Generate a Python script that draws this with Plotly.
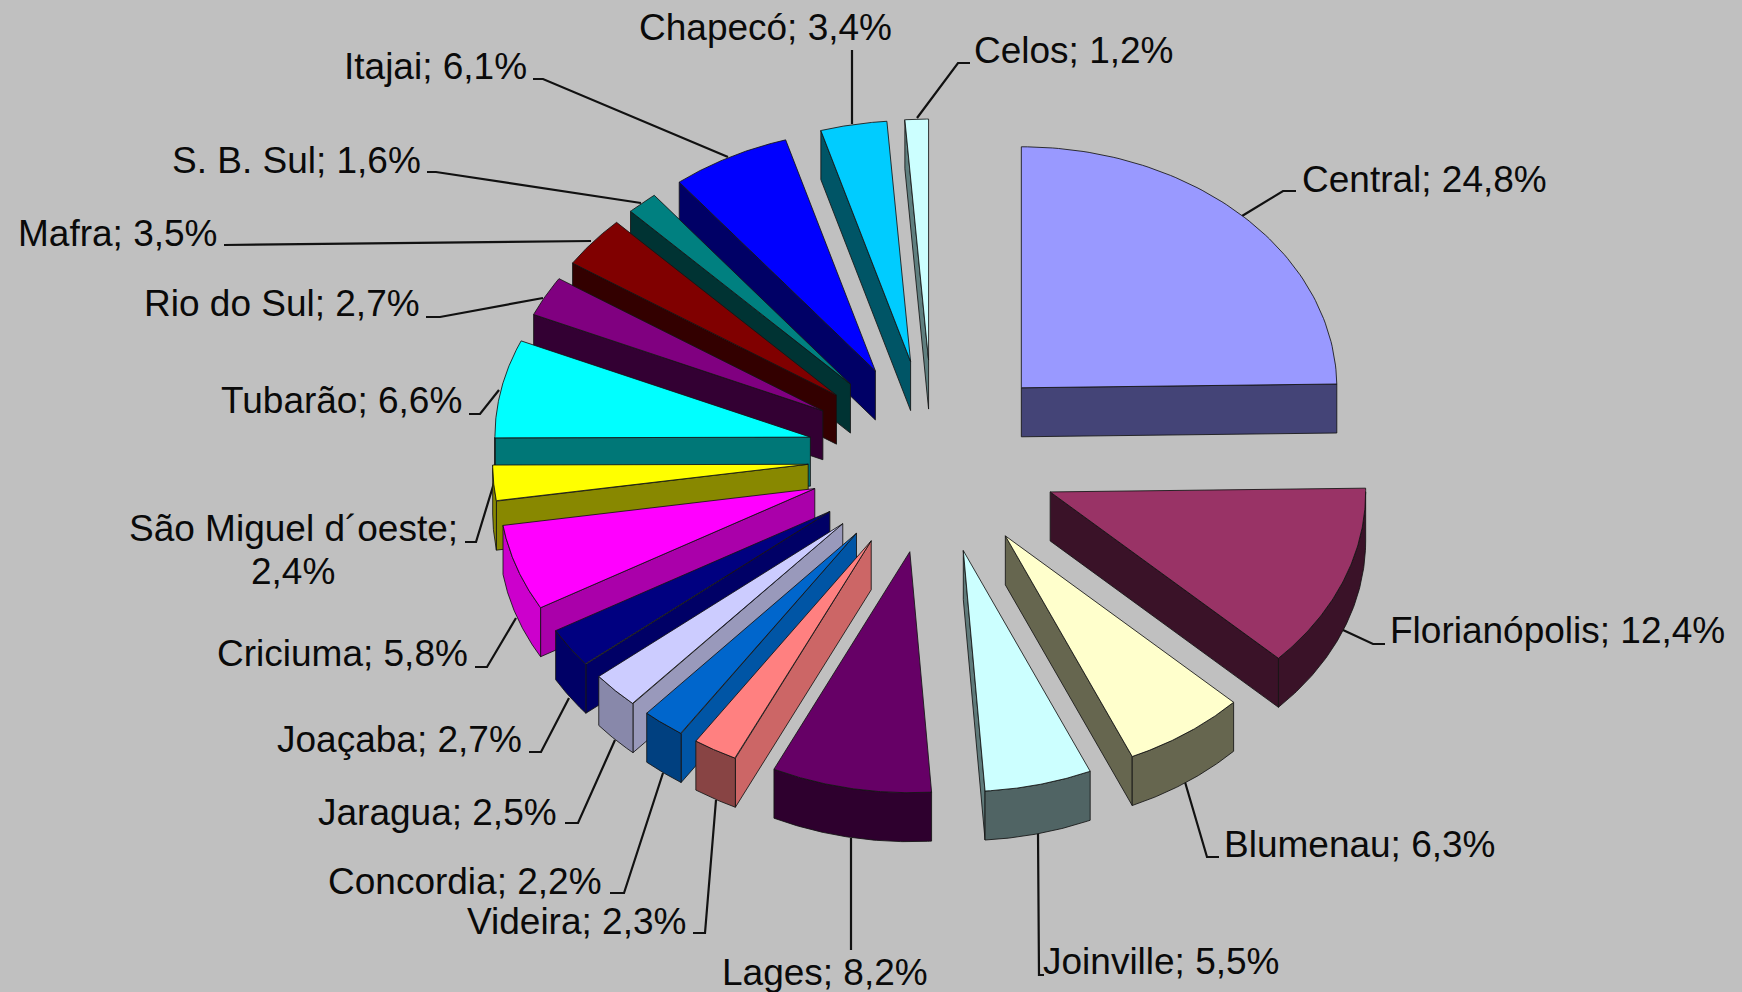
import numpy as np
import plotly.graph_objects as go

# ---- data ----
regions = ["Central", "Florianópolis", "Blumenau", "Joinville", "Lages", "Videira",
           "Concordia", "Jaragua", "Joaçaba", "Criciuma", "São Miguel d´oeste", "Tubarão",
           "Rio do Sul", "Mafra", "S. B. Sul", "Itajai", "Chapecó", "Celos"]
shares = [24.8, 12.4, 6.3, 5.5, 8.2, 2.3, 2.2, 2.5, 2.7, 5.8, 2.4, 6.6, 2.7, 3.5, 1.6, 6.1, 3.4, 1.2]

# ---- styles ----
top_colors = ["#9999FF", "#993366", "#FFFFCC", "#CCFFFF", "#660066", "#FF8080",
              "#0066CC", "#CCCCFF", "#000080", "#FF00FF", "#FFFF00", "#00FFFF",
              "#800080", "#800000", "#008080", "#0000FF", "#00CCFF", "#CCFFFF"]
radial_colors = ["#444477", "#3A1228", "#66664F", "#5F7A7A", "#2E002E", "#CC6666",
                 "#0055A5", "#9999BB", "#000066", "#AA00AA", "#888800", "#007777",
                 "#330033", "#330000", "#003333", "#000066", "#005566", "#5F7F7F"]
arc_colors = ["#444477", "#3A1228", "#66664F", "#506464", "#2E002E", "#884444",
              "#004080", "#8888AA", "#000066", "#CC00CC", "#888800", "#007777",
              "#330033", "#330000", "#003333", "#000066", "#005566", "#5F7F7F"]

# ---- pie geometry ----
CX, CY = 933.3, 456.7
RX, RY = 315.5, 241.0
EX, EY = 125.5, 96.7
DEPTH = 49.0
EDGE = "rgba(20,20,20,0.85)"
FONT = dict(family="Liberation Sans, Arial", size=37, color="#0A0A0A")

# ---- label layout: x, y, anchor ----
label_pos = [(1300, 179, "left"), (1388, 630, "left"), (1222, 844, "left"), (1041, 961, "left"),
             (720, 972, "left"), (688, 921, "right"), (604, 881, "right"), (559, 812, "right"),
             (524, 739, "right"), (470, 653, "right"), (293, 528, "center"), (464, 400, "right"),
             (422, 303, "right"), (219, 233, "right"), (423, 160, "right"), (529, 66, "right"),
             (894, 27, "right"), (972, 50, "left")]
wrapped_value_pos = (293, 571)
leaders = [[(1242, 216), (1283, 191), (1296, 191)],
           [(1343, 630), (1373, 644), (1385, 644)],
           [(1185, 782), (1207, 857), (1219, 857)],
           [(1038, 833), (1039, 975), (1044, 975)],
           [(851, 838), (851, 950)],
           [(716, 800), (705, 933), (693, 933)],
           [(663, 773), (624, 893), (610, 893)],
           [(615, 740), (578, 823), (565, 823)],
           [(569, 698), (541, 752), (529, 752)],
           [(516, 618), (487, 667), (475, 667)],
           [(494, 483), (476, 542), (465, 542)],
           [(499, 390), (480, 414), (469, 414)],
           [(543, 298), (440, 317), (426, 317)],
           [(591, 241), (237, 245), (224, 245)],
           [(641, 203), (436, 172), (427, 172)],
           [(728, 157), (543, 79), (533, 79)],
           [(852, 124), (852, 50)],
           [(917, 118), (958, 63), (970, 63)]]

fig = go.Figure()

# leader lines sit behind the slices
lx, ly = [], []
for pts in leaders:
    lx += [p[0] for p in pts] + [None]
    ly += [p[1] for p in pts] + [None]
fig.add_trace(go.Scatter(x=lx, y=ly, mode="lines", line=dict(color="#111111", width=2.2),
                         hoverinfo="skip", showlegend=False))


def face(xs, ys, color):
    fig.add_trace(go.Scatter(x=list(xs), y=list(ys), mode="lines", fill="toself", fillcolor=color,
                             line=dict(color=EDGE, width=1), hoverinfo="skip", showlegend=False))


fractions = np.array(shares) / sum(shares)
ends = np.cumsum(fractions) * 2 * np.pi
starts = ends - fractions * 2 * np.pi
mids = (starts + ends) / 2

# painter's order: from the back of the pie to the front
for i in np.argsort(-np.cos(mids)):
    a0, a1, am = starts[i], ends[i], mids[i]
    ax = CX + EX * np.sin(am)
    ay = CY - EY * np.cos(am)
    t = np.linspace(a0, a1, 80)
    ox = ax + RX * np.sin(t)
    oy = ay - RY * np.cos(t)

    if np.sin(a0) < 0:  # start wall faces the viewer
        face([ax, ox[0], ox[0], ax, ax], [ay, oy[0], oy[0] + DEPTH, ay + DEPTH, ay], radial_colors[i])
    if np.sin(a1) > 0:  # end wall faces the viewer
        face([ax, ox[-1], ox[-1], ax, ax], [ay, oy[-1], oy[-1] + DEPTH, ay + DEPTH, ay], radial_colors[i])
    lo, hi = max(a0, np.pi / 2), min(a1, 3 * np.pi / 2)
    if hi > lo:  # outer rim, lower half only
        u = np.linspace(lo, hi, 80)
        rx = ax + RX * np.sin(u)
        ry = ay - RY * np.cos(u)
        face(np.r_[rx, rx[::-1], rx[0]], np.r_[ry, ry[::-1] + DEPTH, ry[0]], arc_colors[i])
    face(np.r_[ax, ox, ax], np.r_[ay, oy, ay], top_colors[i])


def label(x, y, text, anchor):
    fig.add_annotation(x=x, y=y, xref="x", yref="y", text=text, showarrow=False,
                       xanchor=anchor, yanchor="middle", align="center", font=FONT)


for name, share, (x, y, anchor) in zip(regions, shares, label_pos):
    val = f"{share:.1f}".replace(".", ",") + "%"
    if name.startswith("São"):
        label(x, y, f"{name};", anchor)
        label(wrapped_value_pos[0], wrapped_value_pos[1], val, anchor)
    else:
        label(x, y, f"{name}; {val}", anchor)

fig.update_layout(width=1742, height=992, margin=dict(l=0, r=0, t=0, b=0),
                  paper_bgcolor="#C0C0C0", plot_bgcolor="#C0C0C0", showlegend=False,
                  xaxis=dict(range=[0, 1742], visible=False, fixedrange=True),
                  yaxis=dict(range=[992, 0], visible=False, fixedrange=True))

fig.write_html("out.html", config={"displayModeBar": False},
               post_script="document.body.style.margin='0';document.body.style.background='#C0C0C0';")
